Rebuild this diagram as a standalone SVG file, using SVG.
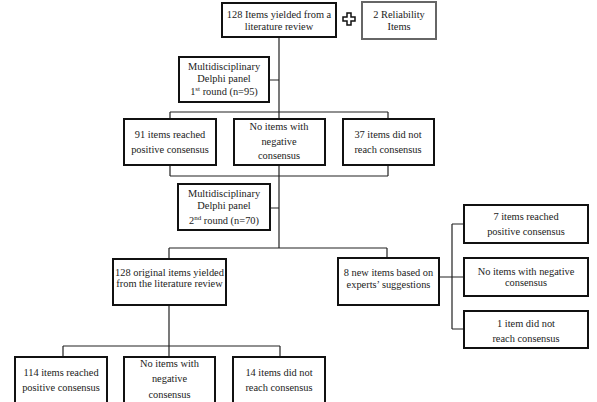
<svg xmlns="http://www.w3.org/2000/svg" width="597" height="402" viewBox="0 0 597 402">
<style>
.box{fill:#fff;stroke:#111;stroke-width:2}
.gbox{fill:#fff;stroke:#666;stroke-width:2}
text{font-family:'Liberation Serif','Times New Roman',Tinos,'DejaVu Serif',serif;font-size:10.4px;fill:#222;text-anchor:middle}
.c{fill:none;stroke:#222;stroke-width:1.2}
</style>
<rect width="597" height="402" fill="#fff"/>
<g id="connectors">
<path class="c" d="M279,37V112M269,80H279M170,112H388M170,112V119M279,112V119M388,112V119"/>
<path class="c" d="M170,165V176M279,165V248M388,165V176M170,176H388M270,208H279"/>
<path class="c" d="M169,248H387M169,248V259M387,248V259"/>
<path class="c" d="M169,305V346M63,346H280M63,346V357M169,346V357M280,346V357"/>
<path class="c" d="M439,277H452M452,224V329M452,224H464M452,277H464M452,329H464"/>
</g>
<g font-family="Liberation Serif, serif">
<g id="n_top"><rect class="box" x="222" y="3" width="114" height="34"/><text x="279" y="18">128 Items yielded from a</text><text x="279" y="30">literature review</text></g>
<g id="n_plus"><path d="M347,13h4v4h4v4h-4v4h-4v-4h-4v-4h4z" fill="#fff" stroke="#111" stroke-width="1.5"/></g>
<g id="n_rel"><rect class="gbox" x="362" y="2" width="74" height="37"/><text x="399" y="18">2 Reliability</text><text x="399" y="30">Items</text></g>
<g id="n_d1"><rect class="box" x="179" y="57" width="90" height="45"/><text x="224" y="70">Multidisciplinary</text><text x="224" y="82">Delphi panel</text><text x="224" y="95">1<tspan font-size="7" dy="-4">st</tspan><tspan dy="4"> round (n=95)</tspan></text></g>
<g id="n_a1"><rect class="box" x="124" y="119" width="92" height="46"/><text x="170" y="138">91 items reached</text><text x="170" y="153">positive consensus</text></g>
<g id="n_b1"><rect class="box" x="234" y="119" width="91" height="46"/><text x="279" y="130">No items with</text><text x="279" y="145">negative</text><text x="279" y="159">consensus</text></g>
<g id="n_c1"><rect class="box" x="343" y="119" width="91" height="46"/><text x="388" y="138">37 items did not</text><text x="388" y="153">reach consensus</text></g>
<g id="n_d2"><rect class="box" x="178" y="184" width="92" height="46"/><text x="224" y="197">Multidisciplinary</text><text x="224" y="209">Delphi panel</text><text x="224" y="224">2<tspan font-size="7" dy="-4">nd</tspan><tspan dy="4"> round (n=70)</tspan></text></g>
<g id="n_orig"><rect class="box" x="113" y="259" width="113" height="46"/><text x="169.5" y="276">128 original items yielded</text><text x="169.5" y="287">from the literature review</text></g>
<g id="n_new"><rect class="box" x="338" y="258" width="101" height="47"/><text x="388.5" y="276">8 new items based on</text><text x="388.5" y="288">experts’ suggestions</text></g>
<g id="n_r1"><rect class="box" x="464" y="205" width="124" height="38"/><text x="526" y="220">7 items reached</text><text x="526" y="235">positive consensus</text></g>
<g id="n_r2"><rect class="box" x="464" y="258" width="124" height="38"/><text x="526" y="275">No items with negative</text><text x="526" y="286">consensus</text></g>
<g id="n_r3"><rect class="box" x="464" y="311" width="124" height="37"/><text x="526" y="327">1 item did not</text><text x="526" y="342">reach consensus</text></g>
<g id="n_a2"><rect class="box" x="15" y="357" width="92" height="48"/><text x="61" y="376">114 items reached</text><text x="61" y="391">positive consensus</text></g>
<g id="n_b2"><rect class="box" x="124" y="357" width="91" height="48"/><text x="169.5" y="367">No items with</text><text x="169.5" y="382">negative</text><text x="169.5" y="398">consensus</text></g>
<g id="n_c2"><rect class="box" x="233" y="357" width="92" height="48"/><text x="279" y="376">14 items did not</text><text x="279" y="391">reach consensus</text></g>
</g>
</svg>
